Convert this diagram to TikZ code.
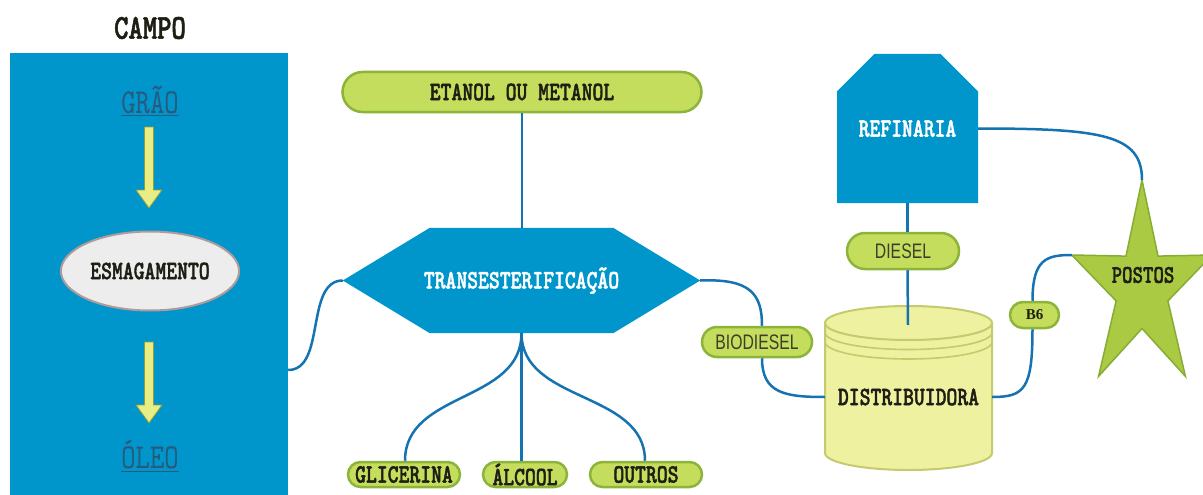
\documentclass[tikz,border=0pt]{standalone}
\usepackage{fontspec}
\usetikzlibrary{calc,shapes.geometric,shapes.misc}
\newfontfamily\tw{lmmono10-regular}[Extension=.otf,BoldFont=lmmonolt10-bold,BoldFeatures={FakeBold=1.5},FakeStretch=0.78]
\newfontfamily\swf[FakeStretch=0.75]{Liberation Sans}
\newfontfamily\serf{Liberation Serif}
\definecolor{cblue}{RGB}{0,150,204}
\definecolor{cline}{RGB}{22,115,178}
\definecolor{pillfill}{RGB}{197,221,92}
\definecolor{pilldraw}{RGB}{140,180,58}
\definecolor{starfill}{RGB}{170,202,68}
\definecolor{stardraw}{RGB}{135,172,50}
\definecolor{cylfill}{RGB}{238,241,160}
\definecolor{cyldraw}{RGB}{196,202,110}
\definecolor{ellfill}{RGB}{237,237,237}
\definecolor{elldraw}{RGB}{175,155,155}
\definecolor{arrfill}{RGB}{232,238,134}
\definecolor{arrdraw}{RGB}{150,158,60}
\definecolor{undertext}{RGB}{40,90,125}
\definecolor{dark}{RGB}{30,30,20}
\definecolor{graytext}{RGB}{60,62,45}
\pgfdeclarelayer{bg}
\pgfsetlayers{bg,main}
\begin{document}
\begin{tikzpicture}[x=1pt,y=-1pt,
  conn/.style={draw=cline,line width=2.5pt},
  pill/.style={shape=rounded rectangle,draw=pilldraw,fill=pillfill,line width=2.5pt,inner sep=0pt},
  twtext/.style={font=\tw\bfseries\fontsize{26.5}{28}\selectfont,text=dark},
  sanstext/.style={font=\swf\fontsize{21}{23}\selectfont,text=graytext},
  yarrow/.style={fill=arrfill,draw=arrdraw,line width=0.8pt},
  undertitle/.style={font=\tw\fontsize{35}{37}\selectfont,text=undertext}
]
\useasboundingbox (0,0) rectangle (1203,495);
\begin{pgfonlayer}{bg}
\fill[white] (0,0) rectangle (1203,495);
\end{pgfonlayer}

% CAMPO
\node[font=\tw\bfseries\fontsize{35}{37}\selectfont,text=dark] (campoT) at (150,28) {CAMPO};
\node[fill=cblue,minimum width=278pt,minimum height=444pt,inner sep=0pt] (campo) at (149,275) {};
\node[undertitle] (grao) at (150,101) {\underline{GRÃO}};
\node[undertitle] (oleo) at (150,456) {\underline{ÓLEO}};
\node[ellipse,fill=ellfill,draw=elldraw,line width=2pt,minimum width=172pt,minimum height=79pt,twtext] (esmag) at (150,271) {ESMAGAMENTO};
\filldraw[yarrow] (144.5,127) -- (153.5,127) -- (153.5,190) -- (162,190) -- (149,208) -- (136,190) -- (144.5,190) -- cycle;
\filldraw[yarrow] (144.5,342) -- (153.5,342) -- (153.5,405) -- (162,405) -- (149,423) -- (136,405) -- (144.5,405) -- cycle;

% ETANOL
\node[pill,minimum width=359pt,minimum height=40pt,twtext] (etanol) at (522,92) {ETANOL OU METANOL};

% TRANSESTERIFICACAO hexagon
\node[minimum width=357pt,minimum height=105pt,inner sep=0pt,twtext,text=white] (trans) at (521.5,280.5) {TRANSESTERIFICAÇÃO};
\begin{pgfonlayer}{bg}
\fill[cblue] (trans.west) -- ([xshift=87pt]trans.north west) -- ([xshift=-87pt]trans.north east) -- (trans.east) -- ([xshift=-87pt]trans.south east) -- ([xshift=87pt]trans.south west) -- cycle;
\end{pgfonlayer}

% products
\node[pill,minimum width=112pt,minimum height=25pt,twtext] (glic) at (404,474.5) {GLICERINA};
\node[pill,minimum width=84pt,minimum height=25pt,twtext] (alcool) at (525,474.5) {ÁLCOOL};
\node[pill,minimum width=112pt,minimum height=25pt,twtext] (outros) at (646,474.5) {OUTROS};

% BIODIESEL
\node[pill,minimum width=110pt,minimum height=30pt,sanstext] (biod) at (757,342) {BIODIESEL};

% REFINARIA
\node[chamfered rectangle,chamfered rectangle corners={north west,north east},chamfered rectangle xsep=28pt,chamfered rectangle ysep=29pt,fill=cblue,minimum width=141pt,minimum height=149pt,inner sep=0pt,twtext,text=white] (refin) at (907.5,128.5) {REFINARIA};

% DIESEL
\node[pill,minimum width=112pt,minimum height=36pt,sanstext] (diesel) at (903,251) {DIESEL};

% DISTRIBUIDORA cylinder
\node[minimum width=167pt,inner sep=0pt,twtext] (distrib) at (908.5,397) {DISTRIBUIDORA};
\begin{pgfonlayer}{bg}
\filldraw[fill=cylfill,draw=cyldraw,line width=2pt] (825,323) -- (825,453) arc[start angle=180,end angle=360,x radius=83.5pt,y radius=17pt] -- (992,323) arc[start angle=0,end angle=180,x radius=83.5pt,y radius=17pt] -- cycle;
\draw[draw=cyldraw,line width=2pt] (825,323) arc[start angle=180,end angle=360,x radius=83.5pt,y radius=17pt];
\draw[draw=cyldraw,line width=1.6pt] (825,332.5) arc[start angle=180,end angle=360,x radius=83.5pt,y radius=17pt];
\draw[draw=cyldraw,line width=1.6pt] (825,342) arc[start angle=180,end angle=360,x radius=83.5pt,y radius=17pt];
\end{pgfonlayer}
\coordinate (tankTop) at (908,325);

% B6
\node[pill,minimum width=49pt,minimum height=26pt,font=\serf\bfseries\fontsize{15}{17}\selectfont,text=dark] (b6) at (1034.5,315) {B6};

% POSTOS star
\coordinate (starTop) at (1142,180);
\coordinate (starLeft) at (1071.8,255);
\begin{pgfonlayer}{bg}
\filldraw[fill=starfill,draw=stardraw,line width=1.5pt] (starTop) -- (1158,256.1) -- (1212.2,255) -- (1167.9,300.9) -- (1185.4,376.3) -- (1142,328.5) -- (1098.6,376.3) -- (1116.1,300.9) -- (starLeft) -- (1126,256.1) -- cycle;
\end{pgfonlayer}
\node[twtext,font=\tw\bfseries\fontsize{25.5}{27}\selectfont] (postos) at (1143,275) {POSTOS};

% connectors
\draw[conn] (etanol.south) -- (etanol.south |- trans.north);
\draw[conn] (trans.south) -- (trans.south |- alcool.north);
\draw[conn] (trans.south) .. controls +(0,70) and +(0,-70) .. ([xshift=1pt]glic.north);
\draw[conn] (trans.south) .. controls +(0,70) and +(0,-70) .. ([xshift=-1pt]outros.north);
\draw[conn] ([yshift=-95pt]campo.east) .. controls +(38,0) and +(-38,0) .. (trans.west);
\draw[conn] (trans.east) .. controls +(50,-2) and +(0,-32) .. ([xshift=5pt]biod.north);
\draw[conn] ([xshift=5pt]biod.south) .. controls +(0,35) and +(-40,0) .. (distrib.west);
\draw[conn] (refin.south) -- (refin.south |- diesel.north);
\draw[conn] (refin.south |- diesel.south) -- (tankTop);
\draw[conn] (refin.east) .. controls +(125,0) and +(0,-45) .. (starTop);
\draw[conn] ([xshift=-2pt]b6.north) .. controls +(0,-42) and +(-25,0) .. (starLeft);
\draw[conn] ([xshift=-2pt]b6.south) .. controls +(0,60) and +(32,0) .. (distrib.east);
\end{tikzpicture}
\end{document}
